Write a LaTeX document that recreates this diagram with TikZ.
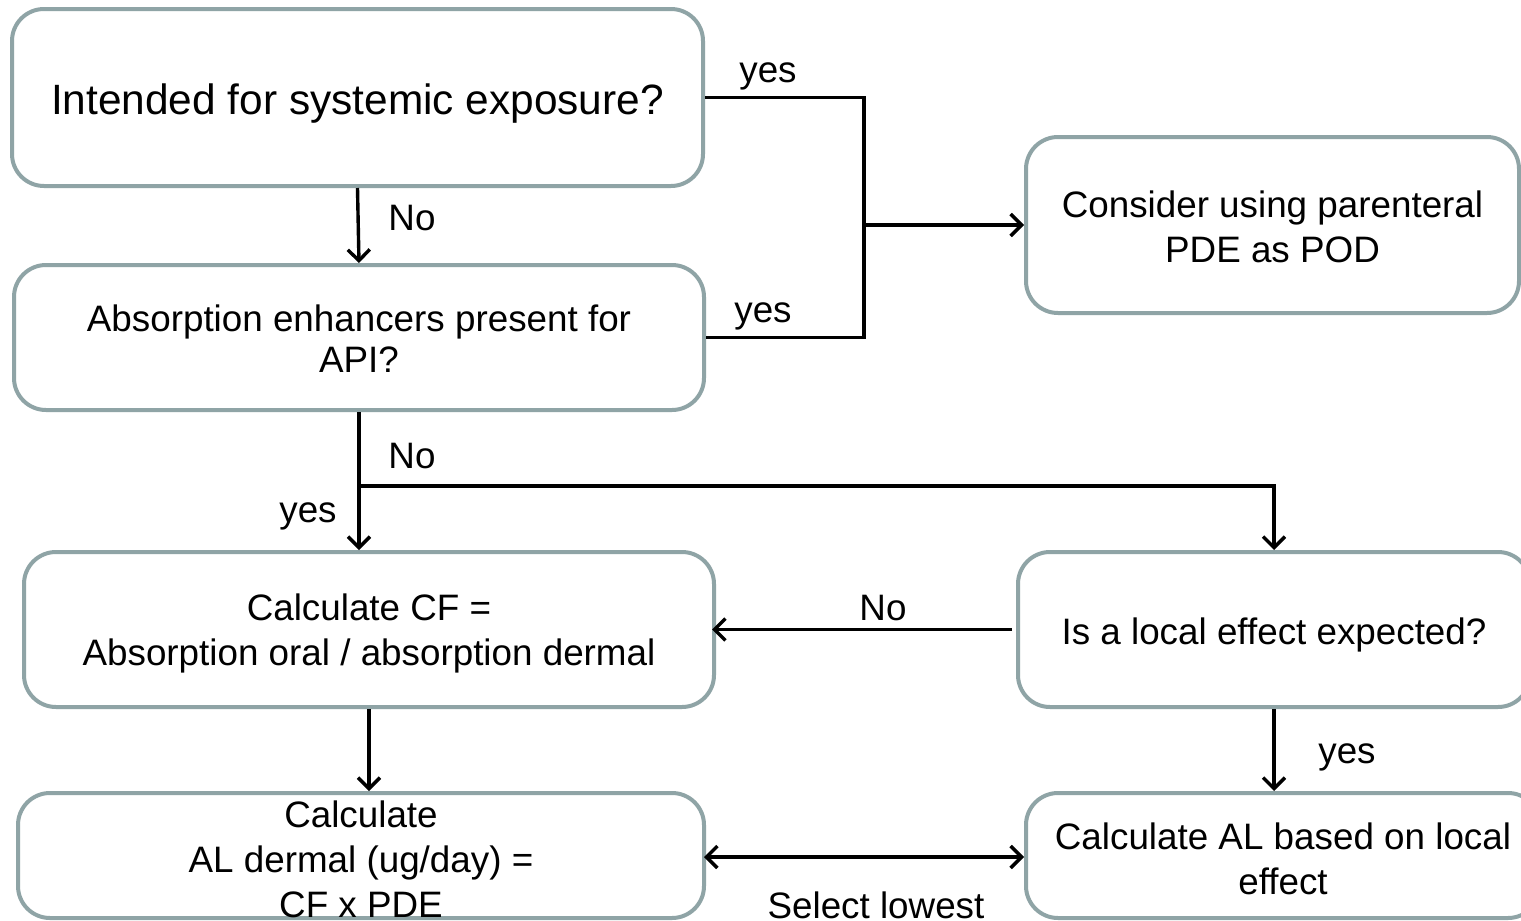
\documentclass[tikz,border=0pt]{standalone}
\usepackage{fontspec}
\setmainfont{Liberation Sans}
\usetikzlibrary{arrows.meta}
\definecolor{boxc}{HTML}{8FA4A6}
\tikzset{
  box/.style={draw=boxc, line width=2pt, rounded corners=16pt, inner sep=0pt, fill=white},
  txt/.style={align=center, inner sep=0pt, yshift=-2pt, font=\fontsize{18.4}{22.5}\selectfont},
  bigtxt/.style={align=center, inner sep=0pt, yshift=-3pt, font=\fontsize{21.2}{25}\selectfont},
  lbl/.style={anchor=base, inner sep=0pt, font=\fontsize{18.4}{22.5}\selectfont},
  conn/.style={line width=1.7pt, black},
  arr/.style={conn, -{Straight Barb[length=5.5pt,width=11pt,line width=1.7pt]}},
  darr/.style={conn, {Straight Barb[length=5.5pt,width=11pt,line width=1.7pt]}-{Straight Barb[length=5.5pt,width=11pt,line width=1.7pt]}}
}
\begin{document}
\begin{tikzpicture}[x=0.5pt,y=-0.5pt]
\clip (0,0) rectangle (1521,921);
\fill[white] (0,0) rectangle (1521,921);

% boxes
\node[box, minimum width=345.5pt, minimum height=88.5pt,
      label={[bigtxt]center:Intended for systemic exposure?}] (b1) at (357.5,97.5) {};
\node[box, minimum width=345pt, minimum height=72.5pt,
      label={[txt,yshift=1.5pt,font=\fontsize{18.4}{20.8}\selectfont]center:Absorption enhancers present for\\API?}] (b2) at (359,337.5) {};
\node[box, minimum width=246.5pt, minimum height=88pt,
      label={[txt,yshift=1pt]center:Consider using parenteral\\PDE as POD}] (b3) at (1272.5,225) {};
\node[box, minimum width=345pt, minimum height=77.5pt,
      label={[txt]center:Calculate CF =\\Absorption oral / absorption dermal}] (b4) at (369,629.5) {};
\node[box, minimum width=256pt, minimum height=77.5pt,
      label={[txt,yshift=-0.5pt]center:Is a local effect expected?}] (b5) at (1274,629.5) {};
\node[box, minimum width=343pt, minimum height=62.5pt,
      label={[txt]center:Calculate\\AL dermal (ug/day) =\\CF x PDE}] (b6) at (361,855.5) {};
\node[box, minimum width=257pt, minimum height=62.5pt,
      label={[txt,yshift=0.5pt]center:Calculate AL based on local\\effect}] (b7) at (1283,855.5) {};

% junctions
\coordinate (j) at (864,225);
\coordinate (k) at (359,486);

% connectors
\draw[arr] (b1.south) -- (b2.north);
\draw[conn] (b1.east) -| (j);
\draw[conn] (b2.east) -| (j);
\draw[arr] (j) -- (b3.west);
\draw[arr] (b2.south) -- (b2.south |- b4.north);
\draw[arr] (k) -| (b5.north);
\draw[arr, shorten <=2pt, shorten >=-2pt] (b5.west) -- (b4.east);
\draw[arr] (b4.south) -- (b4.south |- b6.north);
\draw[arr] (b5.south) -- (b5.south |- b7.north);
\draw[darr, shorten <=-1pt] (b6.east |- 0,857) -- (b7.west |- 0,857);

% labels
\node[lbl] (l1) at (412,230) {No};
\node[lbl] (l2) at (768,83) {yes};
\node[lbl] (l3) at (763,322) {yes};
\node[lbl] (l4) at (412,468) {No};
\node[lbl] (l5) at (308,522) {yes};
\node[lbl] (l6) at (883,620) {No};
\node[lbl] (l7) at (1347,763) {yes};
\node[lbl] (l8) at (876,918) {Select lowest};
\end{tikzpicture}
\end{document}
